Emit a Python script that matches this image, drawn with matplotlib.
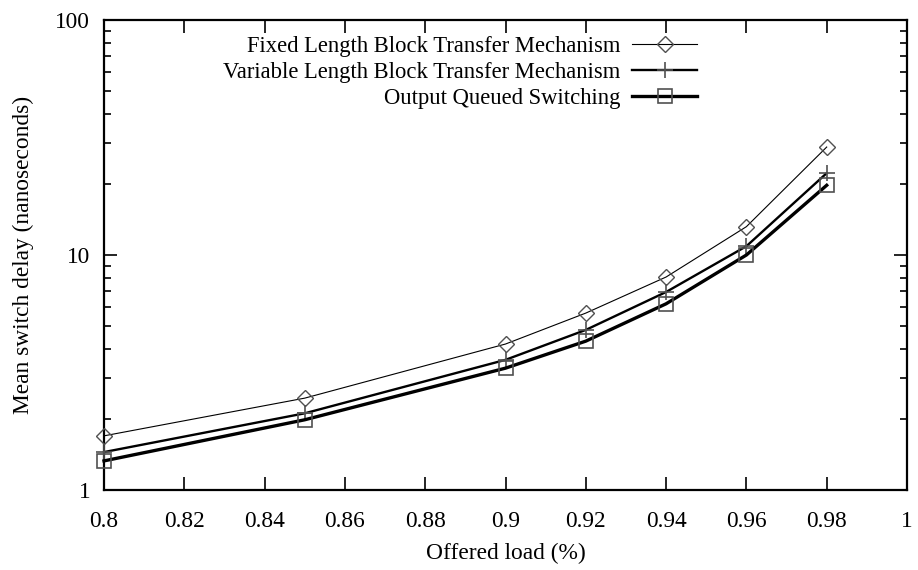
import matplotlib
matplotlib.use("Agg")
import matplotlib.pyplot as plt
from matplotlib.ticker import FixedLocator, LogLocator, NullFormatter, FixedFormatter

plt.rcParams['font.family'] = ['Liberation Serif', 'DejaVu Serif']

load = [0.80, 0.85, 0.90, 0.92, 0.94, 0.96, 0.98]
fixed_len = [1.70, 2.46, 4.18, 5.66, 8.06, 13.2, 28.8]
variable_len = [1.45, 2.12, 3.58, 4.80, 6.96, 10.9, 22.3]
output_queued = [1.33, 1.99, 3.30, 4.30, 6.20, 10.0, 19.8]

labels = ["Fixed Length Block Transfer Mechanism",
          "Variable Length Block Transfer Mechanism",
          "Output Queued Switching"]

xticks = [0.8, 0.82, 0.84, 0.86, 0.88, 0.9, 0.92, 0.94, 0.96, 0.98, 1.0]
xticklabels = ["0.8", "0.82", "0.84", "0.86", "0.88", "0.9", "0.92", "0.94", "0.96", "0.98", "1"]
yticks = [1, 10, 100]
yticklabels = ["1", "10", "100"]

FS = 16.8
LFS = 16.3
mcol = '#505050'

fig = plt.figure(figsize=(9.18, 5.70), dpi=100)
ax = fig.add_axes([104/918, 80/570, (907-104)/918, (490-20)/570])

ax.plot(load, fixed_len, color='black', lw=0.8, marker='D', ms=8, mfc='none',
        mec=mcol, mew=1.0, label=labels[0], clip_on=False, zorder=3)
ax.plot(load, variable_len, color='black', lw=1.7, marker='+', ms=12,
        mec=mcol, mew=1.2, label=labels[1], clip_on=False, zorder=3)
ax.plot(load, output_queued, color='black', lw=2.4, marker='s', ms=9.5, mfc='none',
        mec=mcol, mew=1.2, label=labels[2], clip_on=False, zorder=3)

ax.set_yscale('log')
ax.set_xlim(0.8, 1.0)
ax.set_ylim(1, 100)
ax.xaxis.set_major_locator(FixedLocator(xticks))
ax.xaxis.set_major_formatter(FixedFormatter(xticklabels))
ax.yaxis.set_major_locator(FixedLocator(yticks))
ax.yaxis.set_major_formatter(FixedFormatter(yticklabels))
ax.yaxis.set_minor_locator(LogLocator(base=10, subs=range(2, 10)))
ax.yaxis.set_minor_formatter(NullFormatter())

ax.tick_params(which='both', direction='in', top=True, right=True, width=1.2,
               labelsize=FS, colors='black')
ax.tick_params(which='major', length=9.5)
ax.tick_params(which='minor', length=5)
ax.tick_params(axis='x', pad=15)
ax.tick_params(axis='y', pad=10)
for s in ax.spines.values():
    s.set_linewidth(1.6)

ax.set_xlabel("Offered load (%)", fontsize=FS, labelpad=8)
ax.set_ylabel("Mean switch delay (nanoseconds)", fontsize=FS, labelpad=15)

leg = ax.legend(loc='upper right', bbox_to_anchor=(697/918, (570-36)/570),
                bbox_transform=fig.transFigure, frameon=False, markerfirst=False,
                fontsize=LFS, handlelength=2.85, handletextpad=0.55,
                labelspacing=0.22, borderpad=0, borderaxespad=0)

fig.savefig("out.png", dpi=100)
